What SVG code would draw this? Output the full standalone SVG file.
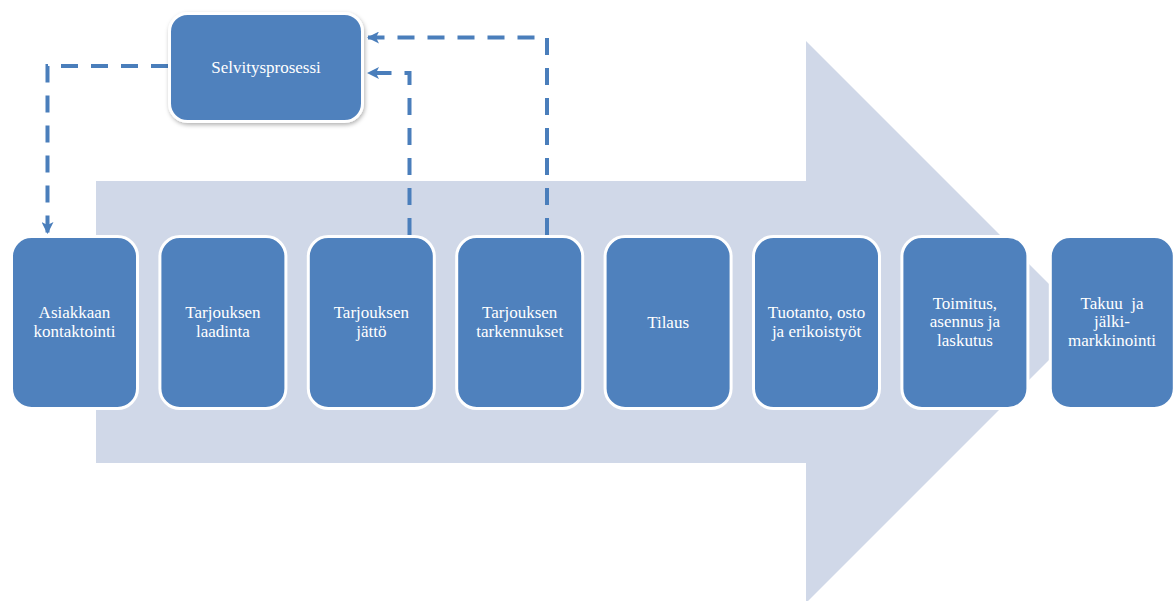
<svg xmlns="http://www.w3.org/2000/svg" width="1175" height="601" viewBox="0 0 1175 601">
  <defs>
    <style>
      .step { fill: #4F81BD; stroke: #FFFFFF; stroke-width: 3; }
      .label { fill: #FFFFFF; font-size: 17px; text-anchor: middle; white-space: pre; }
      .link { fill: none; stroke: #4A7EBB; stroke-width: 4; stroke-dasharray: 17 13; }
    </style>
    <marker id="head" viewBox="0 0 12 12" refX="11" refY="6" markerWidth="12" markerHeight="12" markerUnits="userSpaceOnUse" orient="auto">
      <path d="M0,0 L12,6 L0,12 L3,6 Z" fill="#4A7EBB"/>
    </marker>
    <filter id="shadow" x="-10%" y="-10%" width="125%" height="130%">
      <feDropShadow dx="1" dy="2" stdDeviation="2" flood-color="#000000" flood-opacity="0.3"/>
    </filter>
  </defs>

  <rect width="1175" height="601" fill="#FFFFFF"/>

  <!-- background process arrow -->
  <polygon id="flow-arrow" points="96,181 806,181 806,41 1087,322 806,603 806,463 96,463" fill="#D0D8E8"/>

  <!-- feedback connectors -->
  <g id="connectors">
    <path class="link" d="M168,66 L47.5,66 L47.5,233" marker-end="url(#head)"/>
    <path class="link" d="M409.5,235 L409.5,73 L368,73" marker-end="url(#head)"/>
    <path class="link" d="M547,235 L547,37.5 L368,37.5" marker-end="url(#head)"/>
  </g>

  <g font-family="Liberation Serif, Tinos, Times New Roman, DejaVu Serif, serif">
  <g id="selvitysprosessi">
    <rect class="step" x="169.5" y="13.5" width="193" height="108" rx="18" filter="url(#shadow)"/>
    <text class="label" x="266" y="73">Selvitysprosessi</text>
  </g>

  <g id="step1">
    <rect class="step" x="11.5" y="236.5" width="126" height="172" rx="20"/>
    <text class="label" x="74.5" y="318">Asiakkaan</text>
    <text class="label" x="74.5" y="336.5">kontaktointi</text>
  </g>
  <g id="step2">
    <rect class="step" x="159.9" y="236.5" width="126" height="172" rx="20"/>
    <text class="label" x="222.9" y="318">Tarjouksen</text>
    <text class="label" x="222.9" y="336.5">laadinta</text>
  </g>
  <g id="step3">
    <rect class="step" x="308.3" y="236.5" width="126" height="172" rx="20"/>
    <text class="label" x="371.3" y="318">Tarjouksen</text>
    <text class="label" x="371.3" y="336.5">jättö</text>
  </g>
  <g id="step4">
    <rect class="step" x="456.7" y="236.5" width="126" height="172" rx="20"/>
    <text class="label" x="519.7" y="318">Tarjouksen</text>
    <text class="label" x="519.7" y="336.5">tarkennukset</text>
  </g>
  <g id="step5">
    <rect class="step" x="605.1" y="236.5" width="126" height="172" rx="20"/>
    <text class="label" x="668.1" y="327.5">Tilaus</text>
  </g>
  <g id="step6">
    <rect class="step" x="753.5" y="236.5" width="126" height="172" rx="20"/>
    <text class="label" x="816.5" y="318">Tuotanto, osto</text>
    <text class="label" x="816.5" y="336.5">ja erikoistyöt</text>
  </g>
  <g id="step7">
    <rect class="step" x="901.9" y="236.5" width="126" height="172" rx="20"/>
    <text class="label" x="964.9" y="308.5">Toimitus,</text>
    <text class="label" x="964.9" y="327">asennus ja</text>
    <text class="label" x="964.9" y="345.5">laskutus</text>
  </g>
  <g id="step8">
    <rect class="step" x="1050.3" y="236.5" width="124" height="172" rx="20"/>
    <text class="label" x="1112" y="308.5">Takuu  ja</text>
    <text class="label" x="1112" y="327">jälki-</text>
    <text class="label" x="1112" y="345.5">markkinointi</text>
  </g>
  </g>
</svg>
